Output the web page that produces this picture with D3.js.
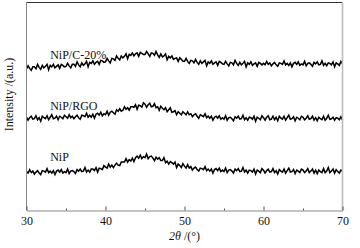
<!DOCTYPE html>
<html>
<head>
<meta charset="utf-8">
<script src="https://cdn.jsdelivr.net/npm/d3@7"></script>
<style>
  html, body { margin: 0; padding: 0; background: #fff; }
  svg { display: block; font-family: "Liberation Serif", "DejaVu Serif", serif; }
</style>
</head>
<body>
<div id="chart"></div>
<script>
// XRD patterns, 2θ 30-70°, read every 0.2°, stacked with offsets (a.u.)
// one row = one degree (5 readings)
const thetaStart = 30;
const thetaStep = 0.2;

const seriesNames = ['NiP/C-20%', 'NiP/RGO', 'NiP'];

const nip = [
  34, 32.5, 36, 33, 34.5,
  31.5, 33.5, 35, 32.5, 31,
  35, 34.5, 33.5, 37, 33,
  34.5, 32.5, 35, 31, 34.5,
  35.5, 33.5, 36, 32.5, 34,
  33, 36.5, 32, 34.5, 35,
  34, 32, 36, 34.5, 36.5,
  34, 34.5, 38, 33.5, 35.5,
  33.5, 36.5, 36.5, 35, 38,
  33.5, 37.5, 37, 36, 40,
  38.5, 37.5, 41.5, 38.5, 40.5,
  38, 40.5, 42.5, 40.5, 40,
  43.5, 43.5, 43.5, 47, 43.5,
  46, 44.5, 47.5, 44, 48,
  49.5, 47.5, 50.5, 47, 49,
  48, 51.5, 47, 49, 49.5,
  47.5, 45, 48.5, 46.5, 48,
  45, 45, 48, 43, 44.5,
  41.5, 44, 43, 41.5, 43.5,
  38, 41.5, 40, 38, 42,
  39.5, 37.5, 41, 37.5, 39,
  35.5, 37.5, 38.5, 36, 34.5,
  37.5, 37, 36, 39, 35,
  36.5, 34.5, 36.5, 32.5, 36,
  37, 35, 37.5, 34, 35.5,
  34, 37.5, 33, 35.5, 36,
  34.5, 32.5, 36.5, 35, 37,
  34, 34.5, 38, 33.5, 35.5,
  32.5, 35.5, 35, 33.5, 36.5,
  31.5, 35.5, 34.5, 33, 37,
  35.5, 32.5, 35, 36.5, 33.5,
  34, 37, 33, 35, 31.5,
  36, 34.5, 33.5, 36.5, 32.5,
  35, 37.5, 33.5, 34, 36,
  32, 35.5, 34.5, 33, 36.5,
  35.5, 33, 34.5, 37, 33,
  34.5, 36.5, 32.5, 35.5, 32,
  35.5, 34, 33, 37, 33,
  34.5, 38, 33, 34.5, 36.5,
  32.5, 36, 34, 32.5, 35.5,
  34.5
];

const nipRgo = [
  88.5, 85.5, 88, 89.5, 86.5,
  87, 90, 86, 88, 84.5,
  89.5, 88, 87, 90, 86,
  88.5, 91, 87, 87.5, 89.5,
  86, 89.5, 88.5, 87, 90.5,
  89, 87.5, 91, 88, 89.5,
  87, 89, 90.5, 88, 86.5,
  90.5, 90, 89, 92.5, 88.5,
  90.5, 88.5, 91.5, 87.5, 91.5,
  92.5, 90.5, 93.5, 90, 92,
  91, 94.5, 90.5, 93.5, 94.5,
  93, 91.5, 96, 94.5, 97,
  94.5, 95.5, 99, 96.5, 98,
  95.5, 99, 99, 98.5, 101,
  96.5, 100.5, 100, 98.5, 103,
  101.5, 98.5, 101, 102.5, 99,
  99.5, 102, 98, 99, 95.5,
  99.5, 97.5, 96, 98, 94,
  96, 98, 93.5, 94, 95,
  91, 94, 92.5, 91, 94,
  92.5, 91, 94, 91, 92,
  89, 91, 92, 89.5, 87.5,
  91, 90, 89, 92, 88,
  89.5, 87.5, 89.5, 85.5, 88.5,
  89.5, 87.5, 90, 86.5, 88,
  86.5, 90, 85.5, 88, 88.5,
  87, 85, 89, 87.5, 89.5,
  86.5, 87, 90.5, 86, 88,
  85.5, 88.5, 88, 86.5, 89.5,
  84.5, 88.5, 87.5, 86, 90,
  88, 85.5, 88.5, 90, 86,
  86.5, 89.5, 86, 88.5, 85,
  89.5, 87.5, 86.5, 89.5, 85.5,
  88, 90.5, 86.5, 87, 89,
  85, 88.5, 87.5, 86, 89.5,
  88.5, 86, 87.5, 90, 86.5,
  87, 89.5, 85.5, 88, 85,
  88.5, 87, 86, 89.5, 85.5,
  87.5, 90.5, 86.5, 87, 88.5,
  85.5, 88, 87.5, 86, 89,
  85.5
];

const nipC20 = [
  137, 140, 137.5, 135.5, 139,
  139, 137, 141.5, 138.5, 136.5,
  140.5, 138, 139.5, 141.5, 136,
  140.5, 139, 141.5, 138, 139.5,
  141, 137.5, 141.5, 140.5, 139,
  139.5, 142.5, 140, 138, 141.5,
  141.5, 139.5, 144, 141, 139,
  143, 140.5, 142, 144.5, 139,
  143.5, 142.5, 145, 141.5, 143.5,
  144.5, 141.5, 145.5, 145, 143.5,
  144, 147.5, 145, 143, 147.5,
  147, 145.5, 150, 147.5, 146,
  150, 148, 149.5, 152, 147,
  151.5, 150.5, 153, 150, 152,
  153, 149.5, 153.5, 152.5, 151.5,
  151.5, 154.5, 152, 149.5, 153,
  152.5, 150.5, 154.5, 151, 148.5,
  152, 149, 150, 152, 146,
  149.5, 148, 150, 146.5, 147.5,
  148, 144.5, 148, 146.5, 144.5,
  144.5, 147.5, 144.5, 142.5, 145.5,
  145, 143, 146.5, 143.5, 141.5,
  145, 142.5, 144, 145.5, 140,
  144, 142.5, 145, 141.5, 143,
  144, 140.5, 144.5, 143.5, 142,
  141.5, 144.5, 142, 140, 143.5,
  143, 141, 145.5, 142.5, 140.5,
  143.5, 141, 142.5, 144.5, 139,
  143, 141.5, 144, 140.5, 142,
  143, 139.5, 143.5, 142.5, 141,
  142.5, 141, 144.5, 141.5, 143,
  140, 142, 143.5, 141, 139.5,
  143, 142.5, 141.5, 145, 141,
  142.5, 140.5, 143, 139, 142.5,
  143.5, 141.5, 144, 140.5, 142,
  141, 144.5, 140, 142.5, 143,
  141.5, 139.5, 143.5, 142, 144,
  141, 141.5, 145, 140.5, 142.5,
  140, 143, 142.5, 141, 144,
  139, 143, 142, 140.5, 144.5,
  142
];

const seriesValues = [nipC20, nipRgo, nip];
// label anchor: 2θ where the name starts, intensity at its baseline
const labelTheta = [33, 33, 33];
const labelLevel = [146.5, 96, 44.5];

const xTicks = [30, 40, 50, 60, 70];
const xMinorTicks = [35, 45, 55, 65];

const width = 360, height = 248;
const margin = { top: 2.5, right: 17.5, bottom: 37.5, left: 26.5 };
const W = width - margin.left - margin.right;
const H = height - margin.top - margin.bottom;

const x = d3.scaleLinear().domain([30, 70]).range([0, W]);
const y = d3.scaleLinear().domain([-5, 203.5]).range([H, 0]);

const svg = d3.select('#chart').append('svg')
  .attr('width', width).attr('height', height);

const g = svg.append('g').attr('transform', `translate(${margin.left},${margin.top})`);

// traces
const line = d3.line()
  .x((d, i) => x(thetaStart + i * thetaStep))
  .y(d => y(d));

g.selectAll('.trace').data(seriesValues).join('path')
  .attr('class', 'trace')
  .attr('d', line)
  .attr('fill', 'none')
  .attr('stroke', '#000')
  .attr('stroke-width', 1.5)
  .attr('stroke-linejoin', 'miter');

// series names
g.selectAll('.name').data(seriesNames).join('text')
  .attr('class', 'name')
  .attr('x', (d, i) => x(labelTheta[i]))
  .attr('y', (d, i) => y(labelLevel[i]))
  .attr('font-size', '12px').attr('fill', '#111')
  .text(d => d);

// frame: the picture has a dark top edge and lighter sides
g.append('line').attr('x1', 0).attr('x2', W).attr('y1', 0).attr('y2', 0)
  .attr('stroke', '#333').attr('stroke-width', 1);
g.append('line').attr('x1', W).attr('x2', W).attr('y1', 0).attr('y2', H)
  .attr('stroke', '#bbb').attr('stroke-width', 1.6);
g.append('line').attr('x1', 0).attr('x2', 0).attr('y1', 0).attr('y2', H)
  .attr('stroke', '#888').attr('stroke-width', 1);

// bottom axis, ticks pointing inwards
const xAxis = g.append('g').attr('transform', `translate(0,${H})`)
  .call(d3.axisBottom(x).tickValues(xTicks).tickSizeInner(-4).tickSizeOuter(0).tickPadding(6));
xAxis.select('.domain').attr('stroke', '#888');
xAxis.selectAll('.tick line').attr('stroke', '#555');
xAxis.selectAll('text')
  .attr('font-family', '"Liberation Serif", serif')
  .attr('font-size', '12px').attr('fill', '#111');

g.append('g').attr('transform', `translate(0,${H})`)
  .call(d3.axisBottom(x).tickValues(xMinorTicks).tickSize(-2).tickFormat(''))
  .call(ax => ax.select('.domain').remove())
  .selectAll('.tick line').attr('stroke', '#555');

// axis titles
const xTitle = svg.append('text')
  .attr('x', margin.left + W / 2).attr('y', height - 8)
  .attr('text-anchor', 'middle').attr('font-size', '12px').attr('fill', '#111');
xTitle.append('tspan').attr('font-style', 'italic').text('2θ');
xTitle.append('tspan').text(' /(°)');

svg.append('text')
  .attr('transform', `translate(13,${margin.top + 92}) rotate(-90)`)
  .attr('text-anchor', 'middle').attr('font-size', '12px').attr('fill', '#111')
  .text('Intensity /(a.u.)');
</script>
</body>
</html>
